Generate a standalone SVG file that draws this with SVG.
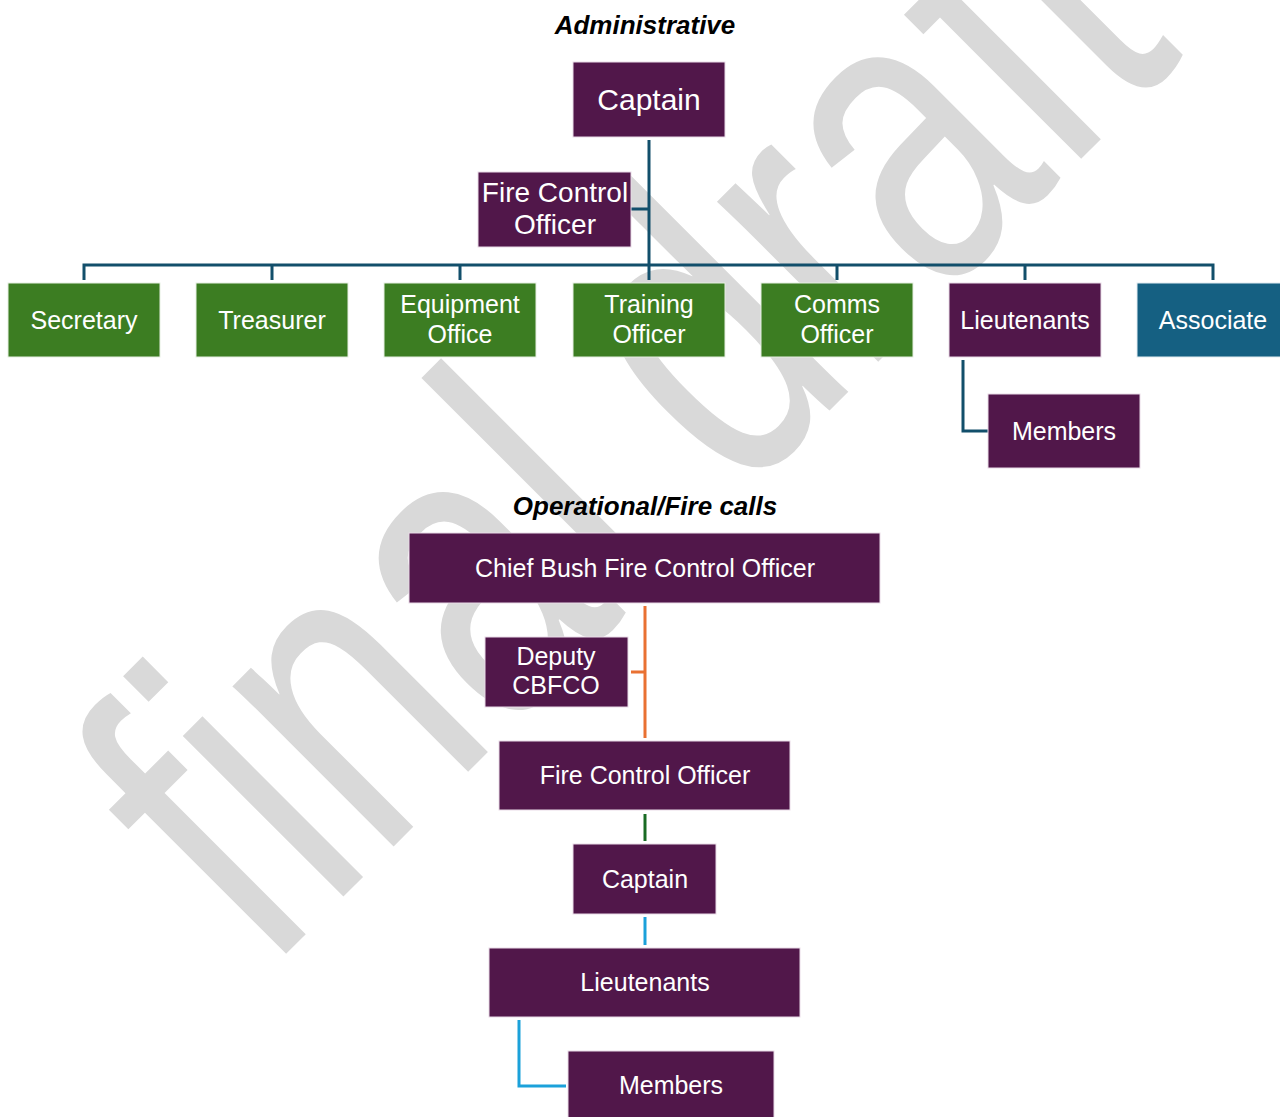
<svg xmlns="http://www.w3.org/2000/svg" width="1280" height="1117" viewBox="0 0 1280 1117">
  <style>
    .wm { font-family: "Liberation Sans", Arial, sans-serif; fill: #d9d9d9; }
    .title { font-family: "Liberation Sans", Arial, sans-serif; font-weight: bold; font-style: italic; font-size: 26px; fill: #000000; text-anchor: middle; }
    .purple { fill: #51174A; stroke: #e9dbe7; stroke-width: 1; }
    .green { fill: #3C7D22; stroke: #e6efe2; stroke-width: 1; }
    .blue { fill: #156082; stroke: #e2ecf1; stroke-width: 1; }
    .lbl { font-family: "Liberation Sans", Arial, sans-serif; fill: #ffffff; text-anchor: middle; }
    .l30 { font-size: 30px; }
    .l28 { font-size: 28px; }
    .l25 { font-size: 25px; }
    .l24 { font-size: 24px; }
    .conn { fill: none; stroke-width: 3; }
    .teal { stroke: #124F6B; }
    .orange { stroke: #E97132; }
    .dgreen { stroke: #196B24; }
    .lblue { stroke: #1BA1DA; }
  </style>
  <rect x="0" y="0" width="1280" height="1117" fill="#ffffff"/>
  <text class="wm" font-size="430" text-anchor="middle" transform="translate(726,514) rotate(-45) scale(0.735,1)">final draft</text>

  <text class="title" x="645" y="34">Administrative</text>
  <text class="title" x="645" y="515">Operational/Fire calls</text>

  <g id="connectors">
    <path class="conn teal" d="M649,140 V265 M631,209 H649 M84,280 V265 H1213 V280 M272,265 V280 M460,265 V280 M649,265 V280 M837,265 V280 M1025,265 V280"/>
    <path class="conn teal" d="M963,360 V431 H988"/>
    <path class="conn orange" d="M645,606 V738 M631,672 H645"/>
    <path class="conn dgreen" d="M645,814 V841"/>
    <path class="conn lblue" d="M645,917 V945"/>
    <path class="conn lblue" d="M519,1020 V1086 H566"/>
  </g>

  <g id="admin-captain">
    <rect class="purple" x="573" y="62" width="152" height="75"/>
    <text class="lbl l30" x="649" y="110">Captain</text>
  </g>
  <g id="admin-fco">
    <rect class="purple" x="478" y="172" width="153" height="75"/>
    <text class="lbl l28" x="555" y="202">Fire Control</text>
    <text class="lbl l28" x="555" y="234">Officer</text>
  </g>
  <g id="secretary">
    <rect class="green" x="8" y="283" width="152" height="74"/>
    <text class="lbl l25" x="84" y="329">Secretary</text>
  </g>
  <g id="treasurer">
    <rect class="green" x="196" y="283" width="152" height="74"/>
    <text class="lbl l25" x="272" y="329">Treasurer</text>
  </g>
  <g id="equipment">
    <rect class="green" x="384" y="283" width="152" height="74"/>
    <text class="lbl l25" x="460" y="313">Equipment</text>
    <text class="lbl l25" x="460" y="343">Office</text>
  </g>
  <g id="training">
    <rect class="green" x="573" y="283" width="152" height="74"/>
    <text class="lbl l25" x="649" y="313">Training</text>
    <text class="lbl l25" x="649" y="343">Officer</text>
  </g>
  <g id="comms">
    <rect class="green" x="761" y="283" width="152" height="74"/>
    <text class="lbl l25" x="837" y="313">Comms</text>
    <text class="lbl l25" x="837" y="343">Officer</text>
  </g>
  <g id="admin-lieutenants">
    <rect class="purple" x="949" y="283" width="152" height="74"/>
    <text class="lbl l25" x="1025" y="329">Lieutenants</text>
  </g>
  <g id="associate">
    <rect class="blue" x="1137" y="283" width="152" height="74"/>
    <text class="lbl l25" x="1213" y="329">Associate</text>
  </g>
  <g id="admin-members">
    <rect class="purple" x="988" y="394" width="152" height="74"/>
    <text class="lbl l25" x="1064" y="440">Members</text>
  </g>

  <g id="chief">
    <rect class="purple" x="409" y="533" width="471" height="70"/>
    <text class="lbl l25" x="645" y="577">Chief Bush Fire Control Officer</text>
  </g>
  <g id="deputy">
    <rect class="purple" x="485" y="637" width="143" height="70"/>
    <text class="lbl l25" x="556" y="665">Deputy</text>
    <text class="lbl l25" x="556" y="694">CBFCO</text>
  </g>
  <g id="op-fco">
    <rect class="purple" x="499" y="741" width="291" height="69"/>
    <text class="lbl l25" x="645" y="784">Fire Control Officer</text>
  </g>
  <g id="op-captain">
    <rect class="purple" x="573" y="844" width="143" height="70"/>
    <text class="lbl l25" x="645" y="888">Captain</text>
  </g>
  <g id="op-lieutenants">
    <rect class="purple" x="489" y="948" width="311" height="69"/>
    <text class="lbl l25" x="645" y="991">Lieutenants</text>
  </g>
  <g id="op-members">
    <rect class="purple" x="568" y="1051" width="206" height="75"/>
    <text class="lbl l25" x="671" y="1094">Members</text>
  </g>
</svg>
